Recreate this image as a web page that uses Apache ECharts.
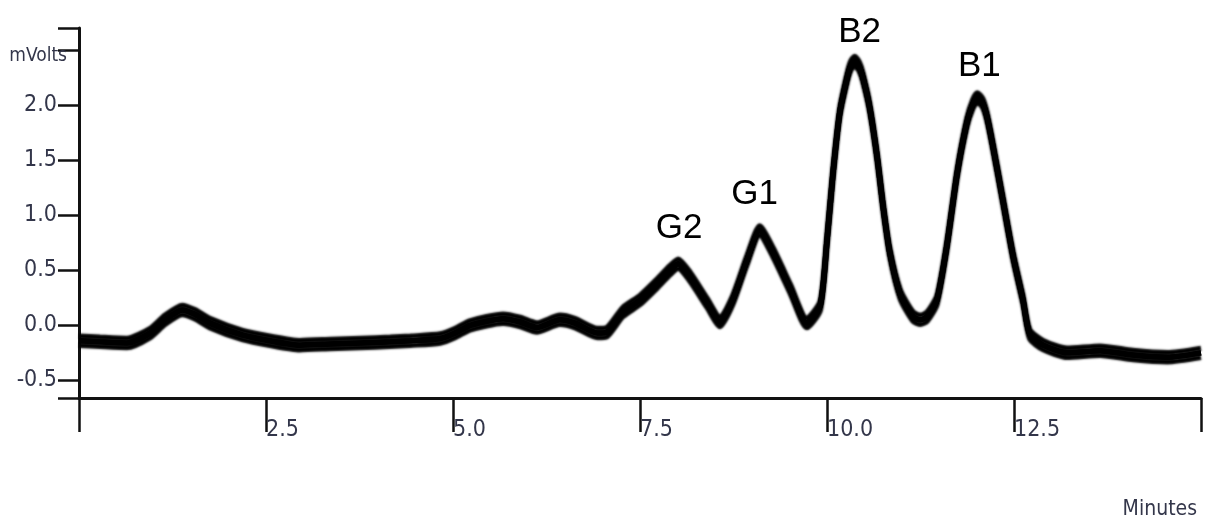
<!DOCTYPE html>
<html>
<head>
<meta charset="utf-8">
<script src="https://cdn.jsdelivr.net/npm/echarts@6/dist/echarts.min.js"></script>
<style>
  html, body { margin: 0; padding: 0; background: #ffffff; }
  #chart { width: 1214px; height: 526px; }
</style>
</head>
<body>
<div id="chart"></div>
<script>
// Chromatogram trace: retention time (minutes) and detector signal (mV)
const times = [
  0.00, 0.28, 0.64, 0.95, 1.15, 1.38, 1.55, 1.75, 2.19, 2.55,
  2.95, 3.36, 3.76, 4.16, 4.43, 4.83, 5.03, 5.23, 5.67, 5.90,
  6.12, 6.43, 6.63, 6.93, 7.06, 7.27, 7.50, 7.73, 7.90, 8.01,
  8.17, 8.40, 8.57, 8.74, 8.93, 9.10, 9.28, 9.51, 9.73, 9.91,
  10.00, 10.08, 10.17, 10.27, 10.32, 10.37, 10.43, 10.48, 10.57, 10.67,
  10.75, 10.84, 10.98, 11.15, 11.25, 11.34, 11.47, 11.60, 11.74, 11.87, 11.95,
  12.01, 12.08, 12.14, 12.22, 12.35, 12.49, 12.62, 12.71, 12.89, 13.21,
  13.65, 14.09, 14.55, 15.00
];
const mvolts = [
  -0.14, -0.15, -0.16, -0.07, 0.05, 0.14, 0.10, 0.02, -0.09, -0.14,
  -0.18, -0.17, -0.16, -0.15, -0.14, -0.12, -0.07, 0.00, 0.06, 0.03,
  -0.02, 0.05, 0.02, -0.07, -0.06, 0.12, 0.23, 0.38, 0.50, 0.56,
  0.44, 0.20, 0.03, 0.23, 0.59, 0.86, 0.66, 0.33, 0.02, 0.18,
  0.77, 1.38, 1.93, 2.25, 2.36, 2.40, 2.35, 2.25, 1.98, 1.53,
  1.08, 0.66, 0.28, 0.08, 0.05, 0.08, 0.23, 0.71, 1.38, 1.84, 2.01,
  2.07, 2.02, 1.89, 1.62, 1.14, 0.62, 0.23, -0.08, -0.18, -0.25,
  -0.23, -0.27, -0.29, -0.25
];

// Named peaks
const peakNames = ['G2', 'G1', 'B2', 'B1'];
const peakTimes = [8.01, 9.10, 10.37, 12.01];
const peakHeights = [0.56, 0.86, 2.40, 2.07];

// Axis ticks and labels
const xTicks = [0, 2.5, 5, 7.5, 10, 12.5, 15];
const xLabels = [2.5, 5, 7.5, 10, 12.5];
const yMin = -0.66, yMax = 2.70;
const yTicks = [-0.66, -0.5, 0, 0.5, 1, 1.5, 2, 2.5, 2.70];
const yLabels = [-0.5, 0, 0.5, 1, 1.5, 2, 2.5];
const yUnitAt = 2.5;

const trace = times.map((t, i) => [t, mvolts[i]]);
const labelFont = '"Liberation Sans Narrow", "DejaVu Sans Condensed", sans-serif';
const labelColor = '#33364a';
const ink = '#111111';

// The detector noise spreads the trace vertically; two copies with
// up/down shadows give it that band-like thickness.
const traceSeries = (dy) => ({
  type: 'line',
  data: trace,
  smooth: 0.22,
  showSymbol: false,
  silent: true,
  lineStyle: {
    color: '#000',
    width: 5.5,
    shadowColor: '#000',
    shadowBlur: 2,
    shadowOffsetY: dy
  },
  z: 3
});

const chart = echarts.init(document.getElementById('chart'), null, { renderer: 'canvas' });
chart.setOption({
  animation: false,
  backgroundColor: '#ffffff',
  grid: {
    left: 79, right: 13, top: 28, bottom: 128,
    containLabel: false,
    outerBoundsMode: 'none'
  },
  xAxis: {
    type: 'value',
    min: 0,
    max: 15,
    interval: 2.5,
    name: 'Minutes',
    nameLocation: 'end',
    nameGap: -4,
    nameTextStyle: {
      fontFamily: labelFont,
      fontSize: 21,
      color: labelColor,
      align: 'right',
      verticalAlign: 'top',
      padding: [101, 0, 0, 0]
    },
    axisLine: { show: true, onZero: false, lineStyle: { color: ink, width: 3 } },
    axisTick: {
      show: true,
      inside: false,
      length: 34,
      customValues: xTicks,
      lineStyle: { color: ink, width: 2.5 }
    },
    axisLabel: {
      show: true,
      customValues: xLabels,
      margin: 21,
      align: 'left',
      fontFamily: labelFont,
      fontSize: 23,
      color: labelColor,
      formatter: (v) => v.toFixed(1)
    },
    splitLine: { show: false }
  },
  yAxis: {
    type: 'value',
    min: yMin,
    max: yMax,
    axisLine: { show: true, onZero: false, lineStyle: { color: ink, width: 3 } },
    axisTick: {
      show: true,
      inside: false,
      length: 21,
      customValues: yTicks,
      lineStyle: { color: ink, width: 2.5 }
    },
    axisLabel: {
      show: true,
      customValues: yLabels,
      margin: 22,
      fontFamily: labelFont,
      fontSize: 23,
      color: labelColor,
      formatter: (v) => (Math.abs(v - yUnitAt) < 1e-9 ? '{u|mVolts}' : v.toFixed(1)),
      rich: {
        u: { fontFamily: labelFont, fontSize: 19, color: labelColor, padding: [12, -10, 0, 0] }
      }
    },
    splitLine: { show: false }
  },
  series: [
    traceSeries(4.5),
    Object.assign(traceSeries(-4.5), {
      markPoint: {
        symbol: 'circle',
        symbolSize: 0,
        silent: true,
        label: {
          show: true,
          position: 'inside',
          color: '#000',
          fontFamily: '"Liberation Sans", Arial, sans-serif',
          fontSize: 35,
          formatter: (p) => p.name
        },
        data: peakNames.map((n, i) => ({
          name: n,
          coord: [peakTimes[i], peakHeights[i]],
          label: { offset: [[1, -35], [-5, -36], [5, -29], [2, -31]][i] }
        }))
      }
    })
  ]
});
</script>
</body>
</html>
